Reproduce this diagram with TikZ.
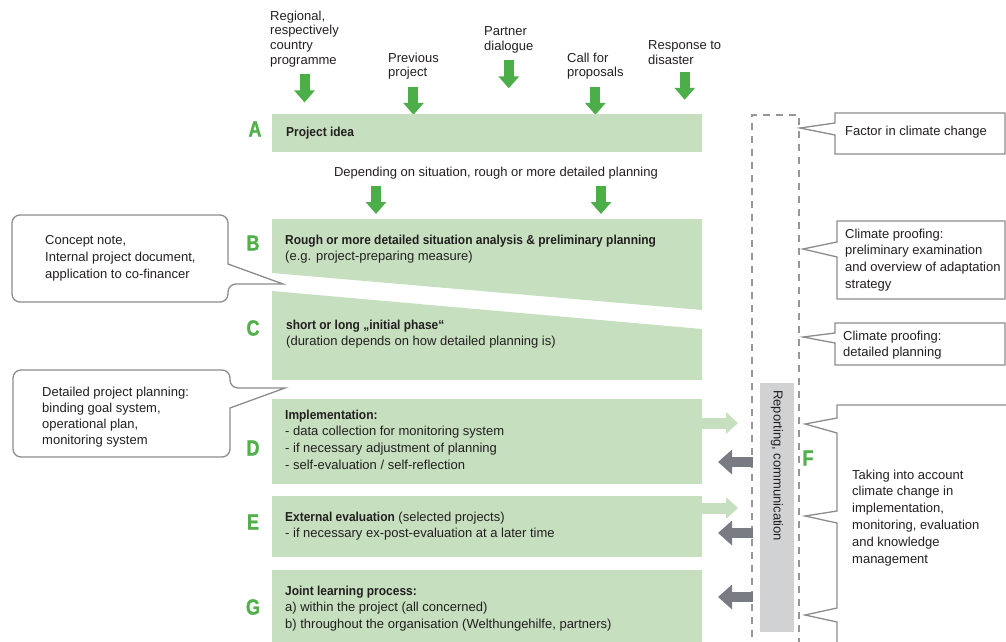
\documentclass[tikz,border=0pt]{standalone}
\usepackage{fontspec}
\setmainfont{Liberation Sans}[BoldFeatures={FakeStretch=0.92}]
\newfontfamily\lettfont{Liberation Sans}[UprightFont={* Bold}, FakeStretch=0.82, FakeBold=1.2]
\usetikzlibrary{arrows.meta,positioning}

\definecolor{boxgreen}{RGB}{198,223,191}
\definecolor{arrowgreen}{RGB}{76,174,72}
\definecolor{lettgreen}{RGB}{82,176,76}
\definecolor{arrowgray}{RGB}{120,124,130}
\definecolor{bargray}{RGB}{209,210,212}
\definecolor{linegray}{RGB}{140,140,140}
\definecolor{txtcol}{RGB}{35,31,32}

\begin{document}
\begin{tikzpicture}[x=1pt,y=-1pt,
  font=\fontsize{13pt}{16.8pt}\selectfont, text=txtcol,
  lbl/.style={anchor=north west, inner sep=0pt, align=left},
  toplbl/.style={lbl, font=\fontsize{13pt}{14.8pt}\selectfont},
  phaselbl/.style={inner sep=0pt, text=lettgreen,
    font=\lettfont\fontsize{22pt}{22pt}\selectfont},
  phasebox/.style={fill=boxgreen, minimum width=430pt, inner sep=0pt, anchor=north west},
  garrow/.style={draw=arrowgreen, line width=10pt, -{Triangle[width=20pt,length=12pt]}},
  lgarrow/.style={draw=boxgreen, line width=11pt, -{Triangle[width=21pt,length=12pt]}},
  grayarrow/.style={draw=arrowgray, line width=10pt, -{Triangle[width=24pt,length=14pt]}},
  callline/.style={draw=linegray, line width=1.3pt, fill=white},
  framedash/.style={draw=linegray!90, line width=1.3pt, dash pattern=on 7pt off 6pt}]
\useasboundingbox (0,0) rectangle (1006,642);

% sources of a project idea
\node[toplbl] (reg) at (270,10.5) {Regional,\\respectively\\country\\programme};
\node[toplbl] (prev) at (388,52.5) {Previous\\project};
\node[toplbl] (partner) at (484,26.5) {Partner\\dialogue};
\node[toplbl] (call) at (567,52.5) {Call for\\proposals};
\node[toplbl] (resp) at (648,40.5) {Response to\\disaster};
\foreach \src in {reg,prev,partner,call,resp}
  \draw[garrow] ([yshift=-7pt]\src.south) -- ++(0,28);

% phases
\node[phasebox, minimum height=38pt] (boxA) at (272,114) {};
\node[lbl] (txtA) at (286,126.5) {\textbf{Project idea}};

\node[inner sep=0pt] (depend) at (496,173) {Depending on situation, rough or more detailed planning};
\draw[garrow] (376,186) -- (376,214);
\draw[garrow] (601,186) -- (601,214);

\fill[boxgreen] (272,219) -- (702,219) -- (702,310) -- (272,273) -- cycle;
\node[lbl] (txtB) at (285,234.5) {\textbf{Rough or more detailed situation analysis \& preliminary planning}\\(e.g. project-preparing measure)};

\fill[boxgreen] (272,291) -- (702,329) -- (702,380) -- (272,380) -- cycle;
\node[lbl] (txtC) at (286,319.5) {\textbf{short or long „initial phase“}\\(duration depends on how detailed planning is)};

\node[phasebox, minimum height=85pt] (boxD) at (272,399) {};
\node[lbl] (txtD) at (285,409.5) {\textbf{Implementation:}\\- data collection for monitoring system\\- if necessary adjustment of planning\\- self-evaluation / self-reflection};

\node[phasebox, minimum height=61pt] (boxE) at (272,496) {};
\node[lbl] (txtE) at (285,511.5) {\textbf{External evaluation} (selected projects)\\- if necessary ex-post-evaluation at a later time};

\node[phasebox, minimum height=80pt] (boxG) at (272,570) {};
\node[lbl] (txtG) at (285,585.5) {\textbf{Joint learning process:}\\a) within the project (all concerned)\\b) throughout the organisation (Welthungehilfe, partners)};

\node[phaselbl] (lA) at (255,129) {A};
\node[phaselbl] (lB) at (253,243) {B};
\node[phaselbl] (lC) at (253,328) {C};
\node[phaselbl] (lD) at (253,448) {D};
\node[phaselbl] (lE) at (253,522) {E};
\node[phaselbl] (lG) at (253,607) {G};

% reporting column
\draw[framedash] (752,650) -- (752,115) -- (799,115) -- (799,650);
\node[fill=bargray, minimum width=34pt, minimum height=249pt, inner sep=0pt, anchor=north west] (bar) at (760,383) {};
\node[rotate=-90, anchor=west, inner sep=0pt] (reptxt) at (777,390) {Reporting, communication};
\node[phaselbl] (lF) at (808,458) {F};

\draw[lgarrow] (702,423) -- (738,423);
\draw[lgarrow] (702,508) -- (738,508);
\draw[grayarrow] (753,462) -- (718,462);
\draw[grayarrow] (753,533) -- (718,533);
\draw[grayarrow] (753,597) -- (718,597);

% callouts left
\draw[callline, rounded corners=8pt] (228,264) -- (228,215) -- (12,215) -- (12,302) -- (228,302) -- (228,284) [sharp corners] -- (283,284) -- cycle;
\node[lbl] (concept) at (45,235.5) {Concept note,\\Internal project document,\\application to co-financer};

\draw[callline, rounded corners=8pt] (230,408) -- (230,457) -- (13,457) -- (13,370) -- (230,370) -- (230,388) [sharp corners] -- (285,388) -- cycle;
\node[lbl, font=\fontsize{13pt}{16pt}\selectfont] (detail) at (42,386.5) {Detailed project planning:\\binding goal system,\\operational plan,\\monitoring system};

% callouts right
\draw[callline] (835,113) -- (1005,113) -- (1005,154) -- (835,154) -- (835,135) -- (800,128) -- (835,123) -- cycle;
\node[lbl] (factor) at (845,125.5) {Factor in climate change};

\draw[callline] (837,221) -- (1005,221) -- (1005,299) -- (837,299) -- (837,257) -- (803,249) -- (837,242) -- cycle;
\node[lbl] (proof1) at (845,228.5) {Climate proofing:\\preliminary examination\\and overview of adaptation\\strategy};

\draw[callline] (835,323) -- (1005,323) -- (1005,365) -- (835,365) -- (835,343) -- (803,337) -- (835,333) -- cycle;
\node[lbl] (proof2) at (843,330.5) {Climate proofing:\\detailed planning};

\draw[callline, fill=none] (1010,405) -- (837,405) -- (837,418) -- (805,424) -- (837,433) -- (837,511) -- (805,516) -- (837,523) -- (837,608) -- (805,615) -- (837,622) -- (837,650);
\node[lbl] (taking) at (852,469.5) {Taking into account\\climate change in\\implementation,\\monitoring, evaluation\\and knowledge\\management};
\end{tikzpicture}
\end{document}
